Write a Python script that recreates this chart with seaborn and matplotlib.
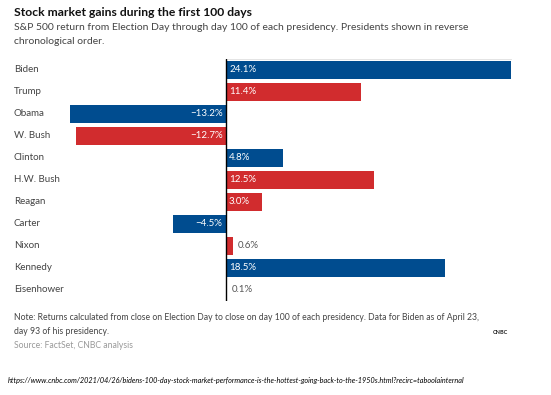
import numpy as np
import pandas as pd
import matplotlib.pyplot as plt
import matplotlib.transforms as mtransforms
import seaborn as sns

presidents = ['Biden', 'Trump', 'Obama', 'W. Bush', 'Clinton', 'H.W. Bush',
              'Reagan', 'Carter', 'Nixon', 'Kennedy', 'Eisenhower']
returns = [24.1, 11.4, -13.2, -12.7, 4.8, 12.5, 3.0, -4.5, 0.6, 18.5, 0.1]
party = ['D', 'R', 'D', 'R', 'D', 'R', 'R', 'D', 'R', 'D', 'R']

BLUE = '#004C8F'
RED = '#D12C2E'
party_colors = {'D': BLUE, 'R': RED}


def main():
    sns.set_theme(style='white')
    plt.rcParams['font.family'] = ['Lato', 'DejaVu Sans']

    df = pd.DataFrame({'name': presidents, 'ret': returns, 'party': party})
    palette = {n: party_colors[p] for n, p in zip(presidents, party)}

    W, H = 551, 395
    fig = plt.figure(figsize=(W / 100, H / 100), dpi=100)
    # axes placed in pixel coordinates
    left, right, top, bottom = 60, 515, 59, 301
    ax = fig.add_axes([left / W, 1 - bottom / H, (right - left) / W, (bottom - top) / H])

    sns.barplot(data=df, x='ret', y='name', hue='name', palette=palette,
                legend=False, orient='h', width=0.86, ax=ax, saturation=1,
                edgecolor='none')

    ax.set_xlim(-14.05, 24.44)
    ax.set_ylim(len(presidents) - 0.5, -0.5)
    ax.axvline(0, color='black', lw=1, zorder=5)
    x0, x1 = ax.get_xlim()
    ax.axhline(-0.5, xmin=(0 - x0) / (x1 - x0), xmax=(24.1 - x0) / (x1 - x0),
               color='#e4e4e4', lw=0.8)
    for s in ax.spines.values():
        s.set_visible(False)
    ax.set_xticks([])
    ax.set_yticks([])
    ax.set_xlabel('')
    ax.set_ylabel('')

    # value labels
    for i, v in enumerate(returns):
        txt = f'{v:.1f}%'.replace('-', '\u2212')
        if v < 0:
            ax.text(-0.3, i, txt, ha='right', va='center', color='white', fontsize=7)
        elif v < 2:
            ax.text(v + 0.35, i, txt, ha='left', va='center', color='#555555', fontsize=7)
        else:
            ax.text(0.25, i, txt, ha='left', va='center', color='white', fontsize=7)

    # category labels at left edge of figure
    trans = mtransforms.blended_transform_factory(fig.transFigure, ax.transData)
    for i, n in enumerate(presidents):
        ax.text(14 / W, i, n, transform=trans, ha='left', va='center',
                color='#444444', fontsize=7, clip_on=False)

    def fy(px):
        return 1 - px / H

    fig.text(14 / W, fy(12), 'Stock market gains during the first 100 days',
             fontsize=8.7, fontweight='bold', color='#111111', va='center')
    fig.text(14 / W, fy(27), 'S&P 500 return from Election Day through day 100 of each presidency. '
             'Presidents shown in reverse', fontsize=7.5, color='#444444', va='center')
    fig.text(14 / W, fy(41), 'chronological order.', fontsize=7.5, color='#444444', va='center')

    fig.text(14 / W, fy(318), 'Note: Returns calculated from close on Election Day to close on day 100 '
             'of each presidency. Data for Biden as of April 23,', fontsize=6.2,
             color='#444444', va='center')
    fig.text(14 / W, fy(331), 'day 93 of his presidency.', fontsize=6.2,
             color='#444444', va='center')
    fig.text(14 / W, fy(345), 'Source: FactSet, CNBC analysis', fontsize=6.2,
             color='#999999', va='center')
    fig.text(500 / W, fy(333), 'CNBC', fontsize=4, fontweight='bold', color='#222222',
             ha='center', va='center')

    fig.text(8 / W, fy(381), 'https://www.cnbc.com/2021/04/26/bidens-100-day-stock-market-performance-'
             'is-the-hottest-going-back-to-the-1950s.html?recirc=taboolainternal',
             fontsize=5.25, style='italic', color='black', va='center')

    fig.savefig('out.png', dpi=100)
    plt.close('all')


if __name__ == '__main__':
    main()
